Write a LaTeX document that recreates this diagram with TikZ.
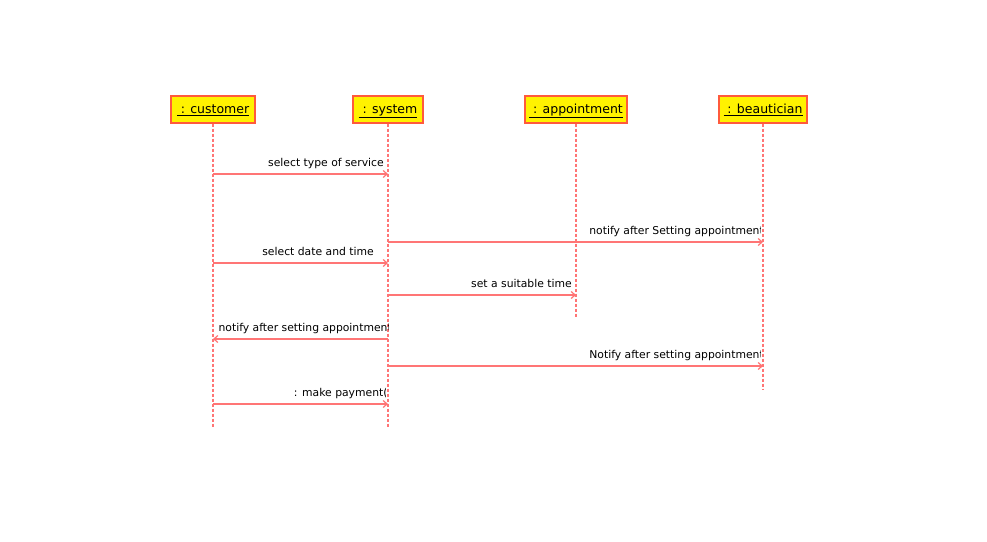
\documentclass[tikz,border=0pt]{standalone}
\usepackage{fontspec}
\setmainfont{DejaVu Sans}
\usetikzlibrary{arrows.meta}
\definecolor{boxborder}{HTML}{FF5A3C}
\definecolor{linecol}{HTML}{FF7575}
\tikzset{
  objbox/.style={draw=boxborder, line width=1.2pt, fill=yellow, minimum height=27pt, inner sep=0pt, text height=11pt, text depth=3pt, font=\fontsize{12.5}{14}\selectfont},
  lifeline/.style={draw=linecol, line width=1.3pt, dash pattern=on 3pt off 2pt},
  msg/.style={draw=linecol, line width=1.2pt, -{Straight Barb[length=4pt,width=7pt]}},
  msglabel/.style={inner sep=0pt, font=\fontsize{10.8}{12}\selectfont}
}
\newcommand{\objname}[1]{\underline{\ #1}}
\begin{document}
\begin{tikzpicture}[x=1pt,y=-1pt]
\useasboundingbox (0,0) rectangle (987,541);
% objects
\node[objbox, minimum width=84pt] (cu) at (213,109.5) {\objname{: customer}};
\node[objbox, minimum width=70pt] (sy) at (388,109.5) {\objname{: system}};
\node[objbox, minimum width=102pt] (ap) at (576,109.5) {\objname{: appointment}};
\node[objbox, minimum width=88pt] (be) at (763,109.5) {\objname{: beautician}};
% lifeline ends
\coordinate (cuend) at (213,427);
\coordinate (syend) at (388,427);
\coordinate (apend) at (576,318);
\coordinate (beend) at (763,390);
\draw[lifeline] (cu.south) -- (cuend);
\draw[lifeline] (sy.south) -- (syend);
\draw[lifeline] (ap.south) -- (apend);
\draw[lifeline] (be.south) -- (beend);
% messages
\draw[msg] (cu.south |- 0,174) -- (sy.south |- 0,174);
\draw[msg] (sy.south |- 0,242) -- (be.south |- 0,242);
\draw[msg] (cu.south |- 0,263) -- (sy.south |- 0,263);
\draw[msg] (sy.south |- 0,295) -- (ap.south |- 0,295);
\draw[msg] (sy.south |- 0,339) -- (cu.south |- 0,339);
\draw[msg] (sy.south |- 0,366) -- (be.south |- 0,366);
\draw[msg] (cu.south |- 0,404) -- (sy.south |- 0,404);
% labels
\node[msglabel, anchor=base east] (l1) at (384,166) {select type of service};
\begin{scope}
\clip (586,215) rectangle (760,240);
\node[msglabel, anchor=base east] (l2) at (764,234) {notify after Setting appointment};
\end{scope}
\node[msglabel, anchor=base east] (l3) at (374,255) {select date and time};
\node[msglabel, anchor=base east] (l4) at (572,287) {set a suitable time};
\begin{scope}
\clip (218,315) rectangle (388,337);
\node[msglabel, anchor=base east] (l5) at (392,331) {notify after setting appointment};
\end{scope}
\begin{scope}
\clip (588,342) rectangle (760,364);
\node[msglabel, anchor=base east] (l6) at (764,358) {Notify after setting appointment};
\end{scope}
\begin{scope}
\clip (280,380) rectangle (385,402);
\node[msglabel, anchor=base east] (l7) at (392,396) {: make payment()};
\end{scope}
\end{tikzpicture}
\end{document}
